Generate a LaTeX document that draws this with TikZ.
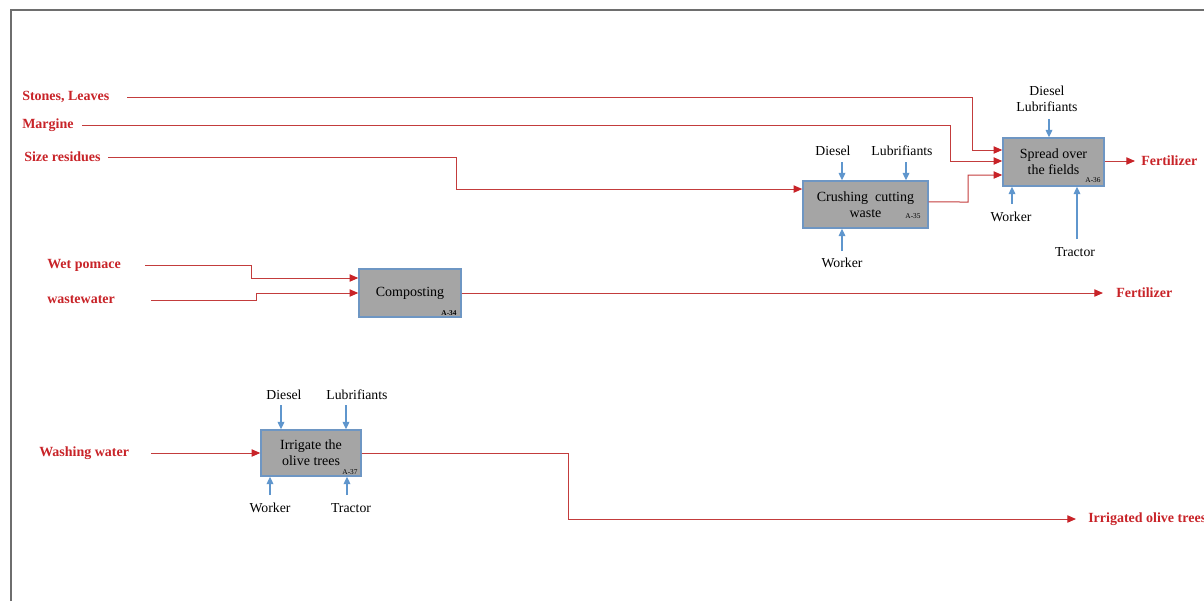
\documentclass[tikz,border=0pt]{standalone}
\usepackage{fontspec}
\setmainfont{Liberation Serif}
\usetikzlibrary{arrows.meta}
\definecolor{myred}{RGB}{200,35,40}
\definecolor{linered}{RGB}{195,60,60}
\definecolor{myblue}{RGB}{95,150,205}
\definecolor{boxgray}{RGB}{165,165,165}
\definecolor{boxedge}{RGB}{110,150,195}
\definecolor{framec}{RGB}{110,110,110}
\begin{document}
\begin{tikzpicture}[x=0.75pt,y=-0.75pt,
  proc/.style={draw=boxedge, line width=1.1pt, fill=boxgray, align=center,
    font=\fontsize{10.5}{12}\selectfont, inner sep=2pt},
  rlab/.style={text=myred, font=\bfseries\fontsize{10.5}{12}\selectfont, anchor=west, inner sep=0pt},
  blab/.style={font=\fontsize{10.3}{12}\selectfont, inner sep=0pt, align=center},
  rl/.style={draw=linered, line width=0.75pt},
  rarr/.style={rl, -{Triangle[length=6.5pt,width=5.5pt,color=myred]}},
  barr/.style={draw=myblue, line width=0.9pt, -{Triangle[length=5.5pt,width=5pt]}},
  tag/.style={font=\fontsize{5.5}{6}\selectfont, inner sep=0pt}
]
\useasboundingbox (0,0) rectangle (1204,601);
% frame
\draw[framec, line width=1.2pt] (11,601) -- (11,10) -- (1204,10);

% process boxes
\node[proc, minimum width=93.75pt, minimum height=35.25pt] (crush) at (865.5,204.5) {Crushing\ \ cutting\\waste};
\node[proc, minimum width=75.75pt, minimum height=36pt] (spread) at (1053.5,162) {Spread over\\the fields};
\node[proc, minimum width=76.5pt, minimum height=36pt] (comp) at (410,293) {Composting};
\node[proc, minimum width=75pt, minimum height=34.5pt] (irr) at (311,453) {Irrigate the\\olive trees};

% tags
\node[tag] (t35) at (913,216) {A-35};
\node[tag] (t36) at (1093,180) {A-36};
\node[tag, font=\bfseries\fontsize{5.5}{6}\selectfont] (t34) at (449,313) {A-34};
\node[tag] (t37) at (350,472) {A-37};

% red labels
\node[rlab] (stones) at (22,97) {Stones, Leaves};
\node[rlab] (margine) at (22,125) {Margine};
\node[rlab] (size) at (24,157) {Size residues};
\node[rlab] (wet) at (47,265) {Wet pomace};
\node[rlab] (waste) at (47,300) {wastewater};
\node[rlab] (wash) at (39,453) {Washing water};
\node[rlab] (fert1) at (1141,161) {Fertilizer};
\node[rlab] (fert2) at (1116,293) {Fertilizer};
\node[rlab] (irrout) at (1088,519) {Irrigated olive trees};

% line start coordinates
\coordinate (s1) at (127,97);
\coordinate (s2) at (82,125);
\coordinate (s3) at (108,157);
\coordinate (s4) at (145,265);
\coordinate (s5) at (151,300);
\coordinate (s6) at (151,453);

% red flows
\draw[rarr] (s1) -- (972,97) |- ([yshift=9pt]spread.west);
\draw[rarr] (s2) -- (950,125) |- ([yshift=0.75pt]spread.west);
\draw[rarr] (s3) -- (456,157) |- ([yshift=11.6pt]crush.west);
\draw[rarr] ([yshift=1.9pt]crush.east) -- (968,202) |- ([yshift=-9.75pt]spread.west);
\draw[rarr, shorten >=4.5pt] ([yshift=0.75pt]spread.east) -- (fert1.west);
\draw[rarr] (s4) -- (251,265) |- ([yshift=11.25pt]comp.west);
\draw[rarr] (s5) -- (256,300) |- (comp.west);
\draw[rarr, shorten >=9.75pt] (comp.east) -- (fert2.west);
\draw[rarr] (s6) -- (irr.west);
\draw[rarr, shorten >=9pt] (irr.east) -- (568,453) |- (irrout.west);

% black labels, crushing
\node[blab] (cdiesel) at (833,151) {Diesel};
\node[blab] (club) at (902,151) {Lubrifiants};
\node[blab] (cwork) at (842,263) {Worker};
\coordinate (a1) at (842,162);
\coordinate (a2) at (906,162);
\coordinate (a3) at (842,251);
\draw[barr] (a1) -- (a1 |- crush.north);
\draw[barr] (a2) -- (a2 |- crush.north);
\draw[barr] (a3) -- (a3 |- crush.south);

% spread
\node[blab] (sdl) at (1047,98.5) {Diesel\\Lubrifiants};
\node[blab] (swork) at (1011,217) {Worker};
\node[blab] (strac) at (1075,252) {Tractor};
\coordinate (b1) at (1049,119);
\coordinate (b2) at (1012,204);
\coordinate (b3) at (1077,239);
\draw[barr] (b1) -- (b1 |- spread.north);
\draw[barr] (b2) -- (b2 |- spread.south);
\draw[barr] (b3) -- (b3 |- spread.south);

% irrigate
\node[blab] (idiesel) at (284,395) {Diesel};
\node[blab] (ilub) at (357,395) {Lubrifiants};
\node[blab] (iwork) at (270,508) {Worker};
\node[blab] (itrac) at (351,508) {Tractor};
\coordinate (c1) at (281,405);
\coordinate (c2) at (346,405);
\coordinate (c3) at (270,495);
\coordinate (c4) at (347,495);
\draw[barr] (c1) -- (c1 |- irr.north);
\draw[barr] (c2) -- (c2 |- irr.north);
\draw[barr] (c3) -- (c3 |- irr.south);
\draw[barr] (c4) -- (c4 |- irr.south);
\end{tikzpicture}
\end{document}
